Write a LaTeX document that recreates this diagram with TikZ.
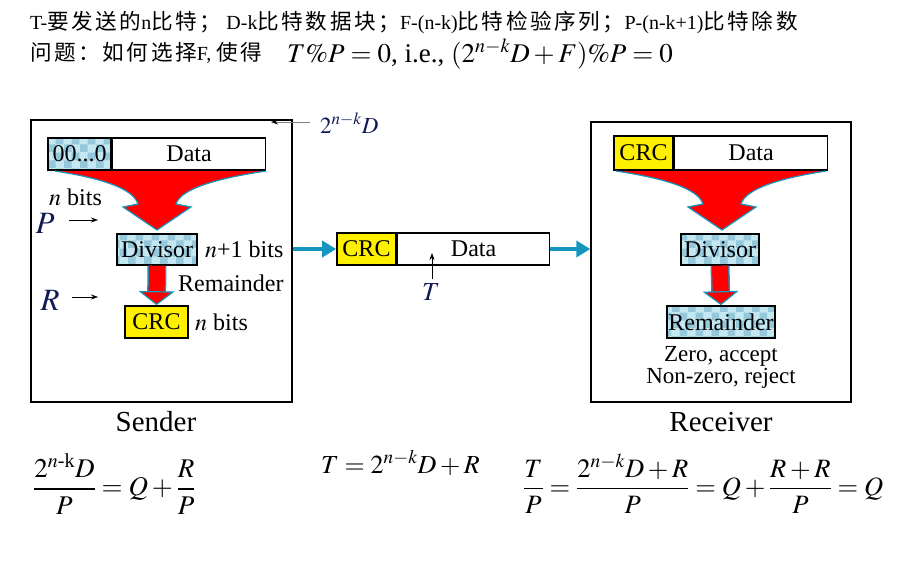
\documentclass[tikz,border=0pt]{standalone}
\usepackage{mathptmx}
\usepackage{amsmath}
\usepackage[no-math]{fontspec}
\setmainfont{Liberation Serif}
\newfontfamily\cjk[LetterSpace=12,Scale=1.08]{Noto Sans CJK SC}
\usetikzlibrary{arrows.meta,patterns}

\definecolor{crcyellow}{RGB}{255,240,0}
\definecolor{edgecyan}{RGB}{20,150,190}
\definecolor{checklight}{RGB}{195,232,242}
\definecolor{checkdark}{RGB}{150,200,220}
\definecolor{labelnavy}{RGB}{15,25,85}

\pgfdeclarepatternformonly{bigchecker}{\pgfpointorigin}{\pgfpoint{16pt}{16pt}}{\pgfpoint{16pt}{16pt}}{%
  \pgfpathrectangle{\pgfpointorigin}{\pgfpoint{8pt}{8pt}}%
  \pgfpathrectangle{\pgfpoint{8pt}{8pt}}{\pgfpoint{8pt}{8pt}}%
  \pgfusepath{fill}}

\tikzset{
  cell/.style={draw, line width=1.6pt, minimum height=32pt, inner sep=0pt, font=\fontsize{24}{26}\selectfont},
  crccell/.style={cell, fill=crcyellow},
  bluecell/.style={cell, preaction={fill=checklight}, pattern=bigchecker, pattern color=checkdark},
  frame/.style={draw, line width=1.3pt, inner sep=0pt},
  head/.style={inner sep=0pt, font=\fontsize{20}{22}\selectfont},
  txt/.style={inner sep=0pt, font=\fontsize{24}{26}\selectfont},
  mathlab/.style={inner sep=0pt, text=labelnavy, font=\fontsize{31}{33}\selectfont},
  formula/.style={inner sep=0pt, font=\fontsize{27}{29}\selectfont},
  flow/.style={edgecyan, line width=4pt, -{Triangle[width=16pt,length=14pt]}},
  pointer/.style={line width=0.6pt, -{Stealth[length=7pt,width=5pt,color=black]}},
  funnel/.style={fill=red, draw=edgecyan, line width=1.2pt},
  shaftedge/.style={edgecyan, line width=19pt, shorten >=12pt},
  downarrow/.style={red, line width=16pt, -{Triangle[width=36pt,length=14pt,color=edgecyan,fill=red,line width=1.2pt]}},
}

\begin{document}
\begin{tikzpicture}[x=1pt,y=-1pt]

    \useasboundingbox (0,0) rectangle (898,568);

    % header
    \node[head, anchor=west] (head1) at (30,22) {T-{\cjk 要发送的}n{\cjk 比特；}\ D-k{\cjk 比特数据块；}F-(n-k){\cjk 比特检验序列；}P-(n-k+1){\cjk 比特除数}};
    \node[head, anchor=west] (head2) at (30,53) {{\cjk 问题：如何选择}F, {\cjk 使得}};
    \node[formula, anchor=west] (goal) at (287,54) {$T\%P=0$, i.e., $(2^{n-k}D+F)\%P=0$};

    % Sender
    \node[frame, minimum width=261pt, minimum height=282pt] (sender) at (161.5,261) {};
    \node[font=\fontsize{29}{31}\selectfont] (sendname) at (156,422) {Sender};
    \node[bluecell, minimum width=63pt] (zeros) at (79.5,154) {00...0};
    \node[cell, minimum width=153pt, anchor=west] (sdata) at (zeros.east) {Data};
    \filldraw[funnel] (55,171) .. controls (100,178) and (133,188) .. (138,204) -- (123,207) -- (157,230) -- (191,207) -- (176,204) .. controls (181,188) and (220,178) .. (266,171);
    \node[txt, anchor=west] (nbitsa) at (49,197) {$n$ bits};
    \node[mathlab] (plab) at (45,223) {$P$};
    \coordinate (pin) at (98,220);
    \draw[pointer, shorten <=14pt] (plab.east |- pin) -- (pin);
    \node[bluecell, minimum width=80pt, minimum height=31pt] (sdiv) at (157,249.5) {Divisor};
    \node[txt, anchor=west] (sdivbits) at (205,249) {$n$+1 bits};
    \node[crccell, minimum width=63pt] (scrc) at (156.5,322) {CRC};
    \node[txt, anchor=west] (nbitsb) at (195,322) {$n$ bits};
    \draw[shaftedge] (sdiv.south) -- (scrc.north);
    \draw[downarrow] (sdiv.south) -- (scrc.north);
    \node[txt, anchor=west] (remlab) at (178,283) {Remainder};
    \node[mathlab] (rlab) at (50,300) {$R$};
    \coordinate (rin) at (98,297);
    \draw[pointer, shorten <=12pt] (rlab.east |- rin) -- (rin);

    % 2^{n-k}D into sender
    \node[mathlab, anchor=west, font=\fontsize{23}{25}\selectfont] (dlab) at (320,123) {$2^{n-k}D$};
    \coordinate (dtop) at (271,122);
    \draw[pointer, draw=gray] (dlab.west |- dtop) ++(-10,0) -- (dtop);

    % frame on the line
    \node[crccell, minimum width=59pt] (mcrc) at (366.5,249) {CRC};
    \node[cell, minimum width=152pt, anchor=west] (mdata) at (mcrc.east) {Data};
    \draw[flow] (sender.east |- mcrc.west) -- (mcrc.west);
    \node[mathlab, font=\fontsize{26}{28}\selectfont] (tlab) at (431,292) {$T$};
    \coordinate (tpt) at (432,253);
    \draw[pointer, shorten <=4pt] (tlab.north -| tpt) -- (tpt);

    % Receiver
    \node[frame, minimum width=260pt, minimum height=280pt] (receiver) at (721,262) {};
    \draw[flow] (mdata.east) -- (receiver.west |- mdata.east);
    \node[font=\fontsize{29}{31}\selectfont] (recvname) at (721,422) {Receiver};
    \node[crccell, minimum width=59pt, minimum height=34pt] (rcrc) at (643.5,153) {CRC};
    \node[cell, minimum width=153pt, minimum height=34pt, anchor=west] (rdata) at (rcrc.east) {Data};
    \filldraw[funnel] (616,171) .. controls (662,178) and (698,188) .. (703,204) -- (688,207) -- (722,230) -- (756,207) -- (741,204) .. controls (746,188) and (782,178) .. (826,171);
    \node[bluecell, minimum width=78pt, minimum height=31pt] (rdiv) at (720,249.5) {Divisor};
    \node[bluecell, minimum width=108pt] (rrem) at (721,322) {Remainder};
    \draw[shaftedge] (rdiv.south) -- (rrem.north);
    \draw[downarrow] (rdiv.south) -- (rrem.north);
    \node[txt, font=\fontsize{23}{25}\selectfont] (racc) at (721,356) {Zero, accept};
    \node[txt, font=\fontsize{23}{25}\selectfont] (rrej) at (721,378) {Non-zero, reject};

    % formulas
    \node[formula, anchor=west] (eqsend) at (33,484) {$\dfrac{2^{n\text{-k}}D}{P}=Q+\dfrac{R}{P}$};
    \node[formula, anchor=west, font=\fontsize{26}{28}\selectfont] (eqt) at (321,463) {$T=2^{n-k}D+R$};
    \node[formula, anchor=west, font=\fontsize{26.5}{28}\selectfont] (eqrecv) at (523,484) {$\dfrac{T}{P}=\dfrac{2^{n-k}D+R}{P}=Q+\dfrac{R+R}{P}=Q$};

\end{tikzpicture}
\end{document}
